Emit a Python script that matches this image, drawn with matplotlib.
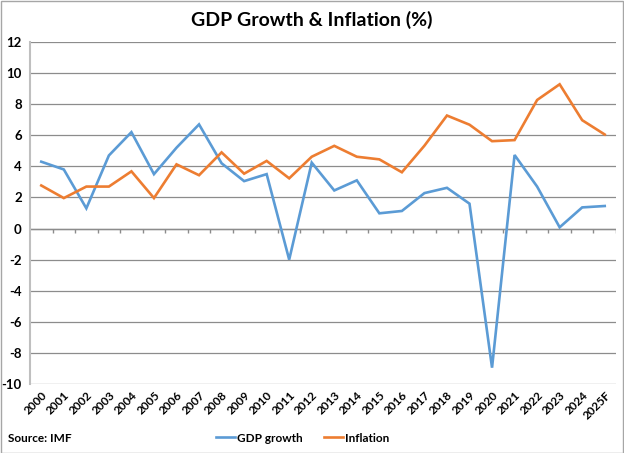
import numpy as np
import matplotlib
matplotlib.use("Agg")
import matplotlib.pyplot as plt
from matplotlib.lines import Line2D
from matplotlib.patches import Rectangle

years = ['2000', '2001', '2002', '2003', '2004', '2005', '2006', '2007', '2008',
         '2009', '2010', '2011', '2012', '2013', '2014', '2015', '2016', '2017',
         '2018', '2019', '2020', '2021', '2022', '2023', '2024', '2025F']
gdp_growth = [4.3, 3.8, 1.3, 4.7, 6.2, 3.5, 5.2, 6.7, 4.2, 3.05, 3.5, -2.0, 4.24,
              2.45, 3.1, 0.98, 1.13, 2.28, 2.62, 1.6, -8.95, 4.73, 2.7, 0.08, 1.36, 1.45]
inflation = [2.77, 1.96, 2.7, 2.7, 3.68, 1.96, 4.13, 3.43, 4.9, 3.53, 4.35, 3.23, 4.62,
             5.32, 4.62, 4.45, 3.62, 5.33, 7.27, 6.68, 5.62, 5.69, 8.27, 9.28, 6.97, 6.05]

BLUE = '#5B9BD5'
ORANGE = '#ED7D31'
GRID = '#8C8C8C'

plt.rcParams['font.family'] = ['Lato', 'DejaVu Sans']

fig = plt.figure(figsize=(6.24, 4.53), dpi=100)
W, H = 624, 453
ax = fig.add_axes([30 / W, 1 - 384 / H, (616 - 30) / W, (384 - 42) / H])

x = np.arange(len(years))
ax.plot(x, gdp_growth, color=BLUE, lw=1.9, solid_joinstyle='miter', zorder=3)
ax.plot(x, inflation, color=ORANGE, lw=1.9, solid_joinstyle='miter', zorder=3)

ax.set_xlim(-0.5, len(years) - 0.5)
ax.set_ylim(-10, 12)
ax.set_yticks(np.arange(-10, 13, 2))
ax.set_yticklabels([str(v) for v in range(-10, 13, 2)], fontsize=9.5, fontweight='bold')
ax.tick_params(axis='y', length=0, pad=6)
ax.grid(axis='y', color=GRID, lw=0.9, zorder=0)

# category axis at zero with ticks between categories
ax.axhline(0, color=GRID, lw=1.0, zorder=2)
ax.vlines(x[1:] - 0.5, -0.3, 0, color=GRID, lw=1.0, zorder=2)
ax.vlines([len(years) - 0.5], -0.3, 0, color=GRID, lw=1.0, zorder=2)

ax.set_xticks(x)
ax.set_xticklabels(years, rotation=45, ha='right', va='top',
                   rotation_mode='anchor', fontsize=8.5, fontweight='bold')
ax.tick_params(axis='x', length=0, pad=4)

for s in ['top', 'right', 'bottom']:
    ax.spines[s].set_visible(False)
ax.spines['left'].set_color('#BFBFBF')
ax.spines['left'].set_linewidth(1.5)

fig.text(0.5, 1 - 20 / H, 'GDP Growth & Inflation (%)', ha='center', va='center',
         fontsize=14, fontweight='bold')
fig.text(8 / W, 1 - 438 / H, 'Source: IMF', ha='left', va='center',
         fontsize=8.5, fontweight='bold')

handles = [Line2D([], [], color=BLUE, lw=1.9), Line2D([], [], color=ORANGE, lw=1.9)]
fig.legend(handles, ['GDP growth', 'Inflation'], loc='center',
           bbox_to_anchor=(0.485, 1 - 438 / H), ncol=2, frameon=False,
           prop={'size': 8.5, 'weight': 'bold'}, handlelength=1.6,
           handletextpad=0.2, columnspacing=1.8)

fig.patches.append(Rectangle((0.5 / W, 0.5 / H), 1 - 1.5 / W, 1 - 1.5 / H,
                             transform=fig.transFigure, fill=False,
                             edgecolor='#A6A6A6', lw=1.0))

fig.savefig('out.png', dpi=100)
